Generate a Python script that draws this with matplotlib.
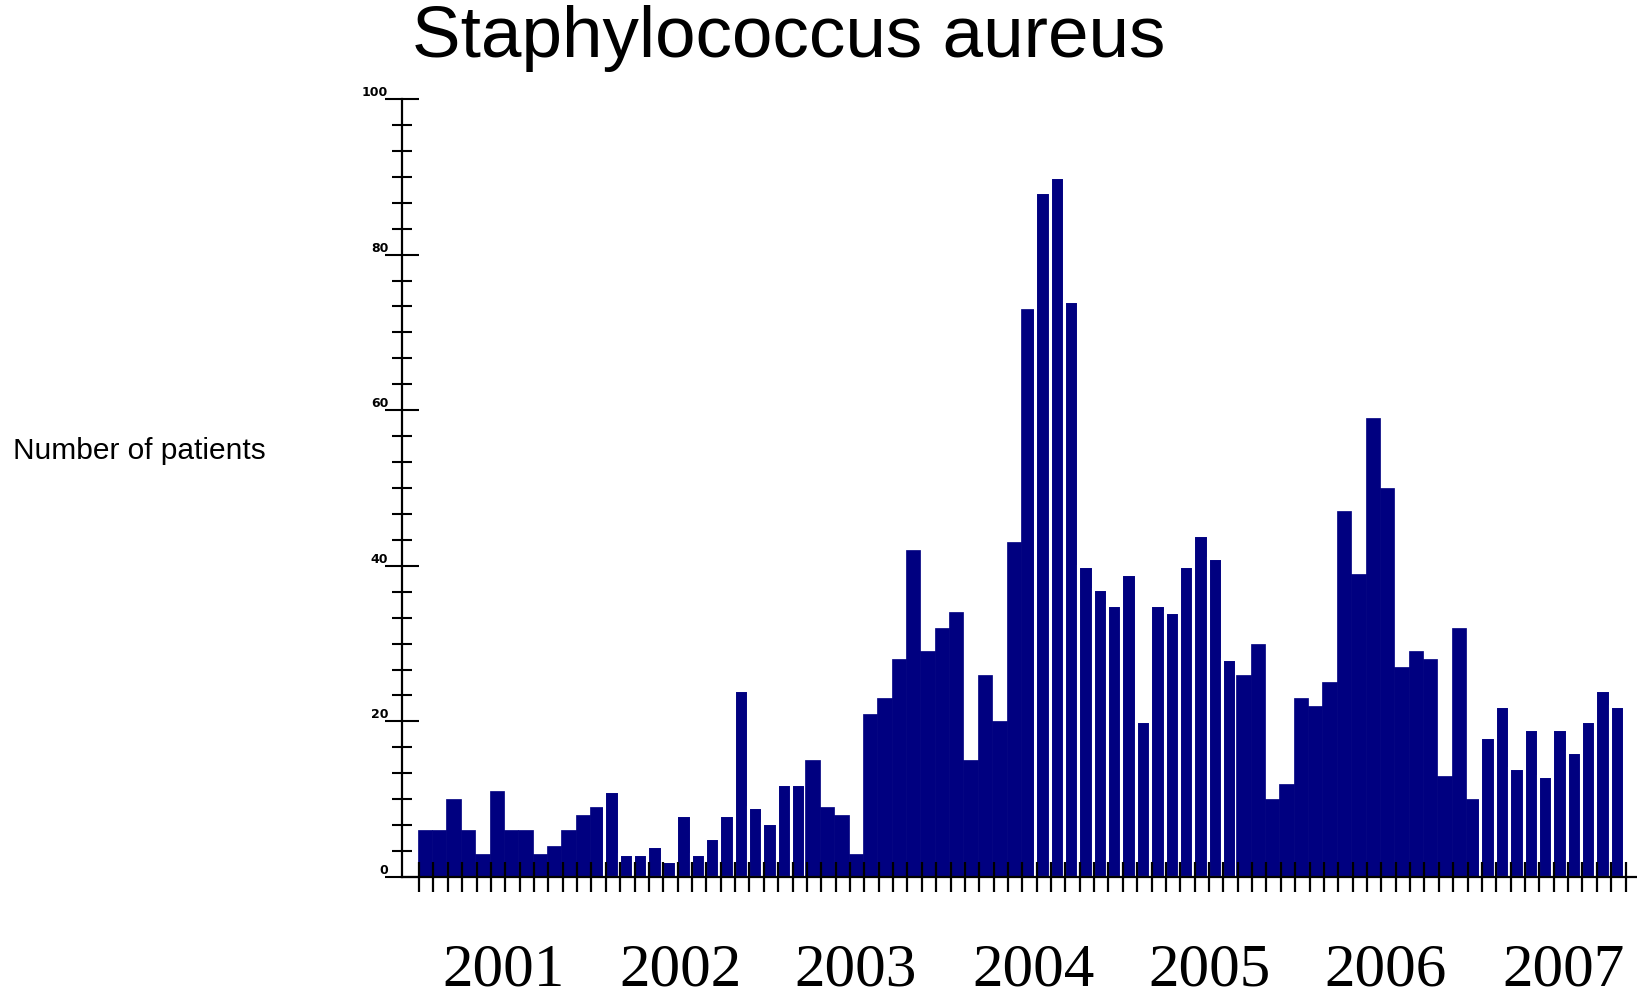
import matplotlib
matplotlib.use("Agg")
import matplotlib.pyplot as plt
from matplotlib.ticker import MultipleLocator, FixedLocator
from matplotlib.transforms import blended_transform_factory

# monthly counts, Jan 2001 .. Dec 2007
patients = [6, 6, 10, 6, 3, 11, 6, 6, 3, 4, 6, 8,
            9, 11, 3, 3, 4, 2, 8, 3, 5, 8, 24, 9,
            7, 12, 12, 15, 9, 8, 3, 21, 23, 28, 42, 29,
            32, 34, 15, 26, 20, 43, 73, 88, 90, 74, 40, 37,
            35, 39, 20, 35, 34, 40, 44, 41, 28, 26, 30, 10,
            12, 23, 22, 25, 47, 39, 59, 50, 27, 29, 28, 13,
            32, 10, 18, 22, 14, 19, 13, 19, 16, 20, 24, 22]
# months (1-based) drawn with a thin white separator in the original
split_bars = list(range(14, 28)) + list(range(44, 58)) + list(range(75, 85))

years = ["2001", "2002", "2003", "2004", "2005", "2006", "2007"]
year_pos = [5.96, 18.3, 30.5, 42.9, 55.1, 67.4, 79.8]

fig = plt.figure(figsize=(16.37, 9.97), dpi=100)
ax = fig.add_axes([0.2456, 0.1204, 0.7544, 0.7803])

for i, v in enumerate(patients):
    if (i + 1) in split_bars:
        ax.bar(i, v, width=1.0, align="edge", color="#000080",
               edgecolor="white", linewidth=2.2)
    else:
        ax.bar(i, v, width=1.0, align="edge", color="#000080",
               edgecolor="#000080", linewidth=0.5)

ax.set_xlim(-1.09, 84.9)
ax.set_ylim(0, 100)

for s in ["top", "right"]:
    ax.spines[s].set_visible(False)
for s in ["left", "bottom"]:
    ax.spines[s].set_linewidth(1.6)
    ax.spines[s].set_color("black")

# y axis ticks
ax.yaxis.set_major_locator(MultipleLocator(20))
ax.yaxis.set_minor_locator(MultipleLocator(20 / 6))
ax.tick_params(axis="y", which="major", direction="inout", length=24,
               width=1.5, pad=-2, labelsize=9)
ax.tick_params(axis="y", which="minor", direction="inout", length=14,
               width=1.5)
for lbl in ax.get_yticklabels():
    lbl.set_verticalalignment("bottom")
    lbl.set_fontweight("bold")

# x axis ticks, one per month
ax.xaxis.set_major_locator(FixedLocator([i + 0.1 for i in range(85)]))
ax.tick_params(axis="x", which="major", direction="inout", length=22,
               width=1.6, labelbottom=False)

trans = blended_transform_factory(ax.transData, fig.transFigure)
for yr, xp in zip(years, year_pos):
    ax.text(xp, 0.026, yr, transform=trans, ha="center", va="center",
            fontsize=44, family="Liberation Serif")

fig.text(0.482, 0.9424, "Staphylococcus aureus", ha="center",
         va="baseline", fontsize=52.5, family="Liberation Sans")
fig.text(0.0077, 0.5477, "Number of patients", ha="left", va="center",
         fontsize=21.5, family="Liberation Sans")

fig.savefig("out.png", dpi=100, facecolor="white")
